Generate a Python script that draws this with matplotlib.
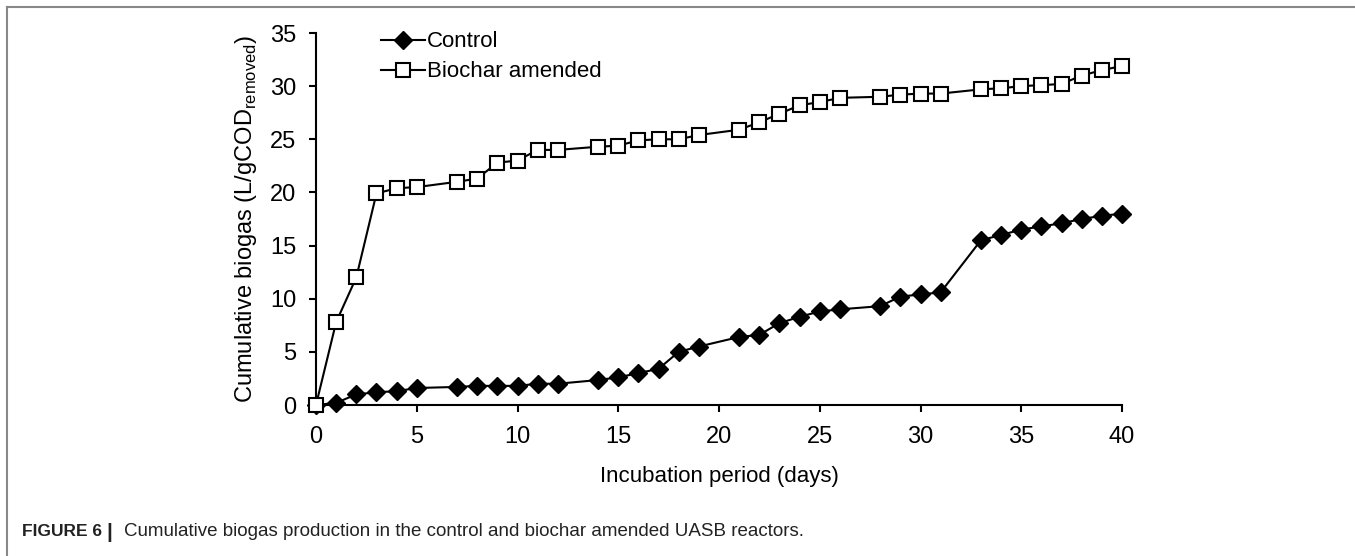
import numpy as np
import matplotlib.pyplot as plt
from matplotlib.lines import Line2D

plt.rcParams['font.family'] = ['Liberation Sans', 'DejaVu Sans']

# incubation days
days = [0, 1, 2, 3, 4, 5, 7, 8, 9, 10, 11, 12, 14, 15, 16, 17, 18, 19,
        21, 22, 23, 24, 25, 26, 28, 29, 30, 31, 33, 34, 35, 36, 37, 38, 39, 40]

control = [0, 0.2, 1.0, 1.2, 1.3, 1.6, 1.7, 1.8, 1.8, 1.8, 2.0, 2.0, 2.35, 2.6,
           3.0, 3.4, 5.0, 5.5, 6.4, 6.6, 7.7, 8.3, 8.8, 9.0, 9.3, 10.2, 10.4,
           10.6, 15.5, 16.0, 16.5, 16.8, 17.1, 17.5, 17.8, 18.0]

biochar = [0, 7.8, 12.0, 19.9, 20.4, 20.5, 21.0, 21.3, 22.8, 23.0, 24.0, 24.0,
           24.3, 24.4, 24.9, 25.0, 25.0, 25.4, 25.9, 26.6, 27.4, 28.2, 28.5,
           28.9, 29.0, 29.2, 29.3, 29.3, 29.7, 29.8, 30.0, 30.1, 30.2, 31.0,
           31.5, 31.9]

fig = plt.figure(figsize=(13.55, 5.56), dpi=100)
ax = fig.add_axes([316 / 1355, 1 - 405 / 556, (1122 - 316) / 1355, (405 - 33) / 556])

ax.plot(days, control, color='black', lw=1.5, marker='D', markersize=9,
        markerfacecolor='black', clip_on=False, zorder=3, label='Control')
ax.plot(days, biochar, color='black', lw=1.5, marker='s', markersize=10,
        markerfacecolor='white', markeredgewidth=1.5, clip_on=False, zorder=3,
        label='Biochar amended')

ax.set_xlim(0, 40)
ax.set_ylim(0, 35)
ax.set_xticks(np.arange(0, 41, 5))
ax.set_yticks(np.arange(0, 36, 5))
ax.spines['top'].set_visible(False)
ax.spines['right'].set_visible(False)
ax.spines['left'].set_linewidth(1.5)
ax.spines['bottom'].set_linewidth(1.5)
ax.tick_params(direction='out', length=5, width=1.5, labelsize=17)
ax.tick_params(axis='x', pad=10)
ax.tick_params(axis='y', pad=9)

ax.set_xlabel('Incubation period (days)', fontsize=16, labelpad=13)
ax.set_ylabel('Cumulative biogas (L/gCOD$_{\\mathregular{removed}}$)', fontsize=17, labelpad=8)

ax.legend(loc='upper left', bbox_to_anchor=(0.069, 1.028), frameon=False,
          fontsize=16, handlelength=2.0, handletextpad=0.1, borderaxespad=0,
          labelspacing=0.4)

# frame around the figure panel (top and left only)
fig.add_artist(Line2D([7 / 1355, 1], [1 - 7 / 556, 1 - 7 / 556], color='#888888', lw=1.5))
fig.add_artist(Line2D([7 / 1355, 7 / 1355], [0, 1 - 7 / 556], color='#888888', lw=1.5))

fig.text(22 / 1355, 1 - 532 / 556, 'FIGURE 6', fontsize=12.5, fontweight='bold',
         va='center', color='#222222')
fig.text(106 / 1355, 1 - 532 / 556, '|', fontsize=15, fontweight='bold',
         va='center', color='#222222')
fig.text(124 / 1355, 1 - 532 / 556,
         'Cumulative biogas production in the control and biochar amended UASB reactors.',
         fontsize=13.5, va='center', color='#222222')

fig.savefig('out.png', dpi=100)
